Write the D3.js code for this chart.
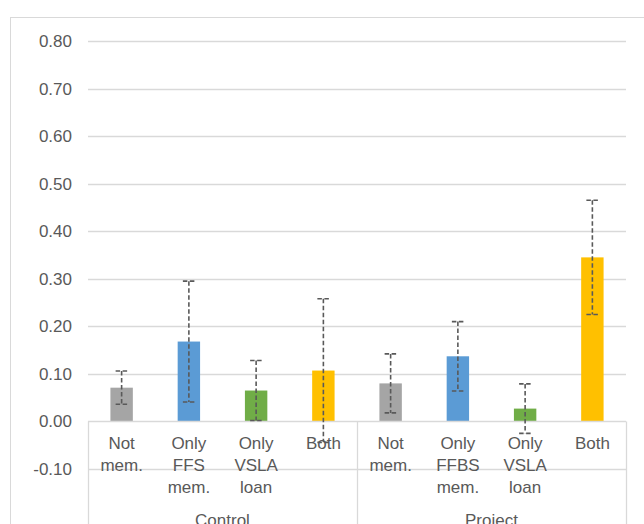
<!DOCTYPE html>
<html><head><meta charset="utf-8">
<script src="https://cdn.jsdelivr.net/npm/d3@7"></script>
<style>html,body{margin:0;padding:0;background:#fff;overflow:hidden}</style>
</head><body>
<svg id="c" width="644" height="524"></svg>
<script>
const groups = ["Control", "Project"];
const categories = ["Not\nmem.", "Only\nFFS\nmem.", "Only\nVSLA\nloan", "Both", "Not\nmem.", "Only\nFFBS\nmem.", "Only\nVSLA\nloan", "Both"];
const values = [0.071, 0.168, 0.065, 0.107, 0.080, 0.137, 0.027, 0.345];
const errors = [0.035, 0.127, 0.063, 0.151, 0.062, 0.073, 0.052, 0.120];
const colors = ["#A5A5A5", "#5B9BD5", "#70AD47", "#FFC000", "#A5A5A5", "#5B9BD5", "#70AD47", "#FFC000"];
const yTicks = [-0.10, 0.00, 0.10, 0.20, 0.30, 0.40, 0.50, 0.60, 0.70, 0.80];

const svg = d3.select("#c");
const L = 88, R = 626, T = 41, B = 469;
const font = "'Liberation Sans', Arial, sans-serif";
const txt = "#595959";
const fs = 17;

svg.append("rect").attr("x", 10.5).attr("y", 17.5).attr("width", 700).attr("height", 600)
  .attr("fill", "#fff").attr("stroke", "#D9D9D9").attr("stroke-width", 1);

const y = d3.scaleLinear().domain([-0.1, 0.8]).range([B, T]);
const idx = d3.range(categories.length);
const x = d3.scaleBand().domain(idx).range([L, R]).padding(0);
const gx = d3.scaleBand().domain(groups).range([L, R]).padding(0);

// gridlines
svg.append("g").selectAll("line").data(yTicks.filter(v => v !== 0)).join("line")
  .attr("x1", L).attr("x2", R).attr("y1", d => Math.round(y(d)) + 0.5).attr("y2", d => Math.round(y(d)) + 0.5)
  .attr("stroke", "#D9D9D9").attr("stroke-width", 1.3);

// y labels
const fmt = d3.format(".2f");
const yAxis = d3.axisLeft(y).tickValues(yTicks).tickFormat(d => fmt(d).replace("\u2212", "-")).tickSize(0).tickPadding(16);
const ya = svg.append("g").attr("transform", `translate(${L},0)`).call(yAxis);
ya.select(".domain").remove();
ya.selectAll("text").attr("font-family", font).attr("font-size", fs).attr("fill", txt);

// bars
const bw = x.bandwidth() / 3;
svg.append("g").selectAll("rect").data(idx).join("rect")
  .attr("x", i => x(i) + x.bandwidth() / 2 - bw / 2)
  .attr("width", bw)
  .attr("y", i => y(Math.max(0, values[i])))
  .attr("height", i => Math.abs(y(values[i]) - y(0)))
  .attr("fill", i => colors[i]);

// category axis line at 0
svg.append("line").attr("x1", L).attr("x2", R).attr("y1", y(0)).attr("y2", y(0))
  .attr("stroke", "#D9D9D9").attr("stroke-width", 1.5);

// group separators
const seps = [L, gx("Project"), R];
svg.append("g").selectAll("line").data(seps).join("line")
  .attr("x1", d => Math.round(d) + 0.5).attr("x2", d => Math.round(d) + 0.5)
  .attr("y1", y(0)).attr("y2", 530)
  .attr("stroke", "#D9D9D9").attr("stroke-width", 1.3);

// error bars
const eb = svg.append("g").attr("stroke", "#595959").attr("stroke-width", 1.6)
  .attr("stroke-dasharray", "4.5,2.5").attr("fill", "none");
idx.forEach(i => {
  const cx = x(i) + x.bandwidth() / 2;
  const hi = y(values[i] + errors[i]), lo = y(values[i] - errors[i]);
  eb.append("line").attr("x1", cx).attr("x2", cx).attr("y1", hi).attr("y2", lo);
  eb.append("line").attr("x1", cx - 6).attr("x2", cx + 6).attr("y1", hi).attr("y2", hi);
  eb.append("line").attr("x1", cx - 6).attr("x2", cx + 6).attr("y1", lo).attr("y2", lo);
});

// category labels
const cl = svg.append("g").attr("font-family", font).attr("font-size", fs).attr("fill", txt).attr("text-anchor", "middle");
idx.forEach(i => {
  const t = cl.append("text").attr("x", x(i) + x.bandwidth() / 2).attr("y", 449);
  categories[i].split("\n").forEach((s, k) => {
    t.append("tspan").attr("x", x(i) + x.bandwidth() / 2).attr("dy", k === 0 ? 0 : 21.8).text(s);
  });
});
// group labels
svg.append("g").selectAll("text").data(groups).join("text")
  .attr("x", d => gx(d) + gx.bandwidth() / 2).attr("y", 526)
  .attr("text-anchor", "middle").attr("font-family", font).attr("font-size", fs).attr("fill", txt)
  .text(d => d);
</script>
</body></html>
